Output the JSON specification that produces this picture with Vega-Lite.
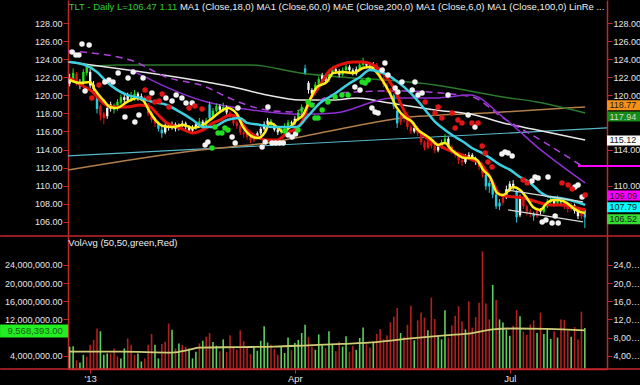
{
"$schema": "https://vega.github.io/schema/vega-lite/v6.json",
"width": 539, "height": 369,
"autosize": {"type": "none"},
"padding": {"left": 68, "top": 0, "right": 33, "bottom": 16},
"background": "#000000",
"config": {
  "view": {"stroke": null},
  "axis": {"grid": false, "domainColor": "#c4262e", "tickColor": "#c4262e", "labelColor": "#e4e4e4", "labelFont": "Liberation Sans, Arial", "labelFontSize": 9, "tickSize": 5, "labelPadding": 1, "domainWidth": 1.5, "tickWidth": 1, "labelOverlap": false, "labelFlush": false},
  "text": {"font": "Liberation Sans, Arial", "fontSize": 9.5}
},
"datasets": {
"bars": [
{"i":0,"o":121.3,"h":122.4,"l":121.0,"c":121.9,"k":"w","v":6.0,"vk":"g"},
{"i":1,"o":121.8,"h":123.0,"l":121.5,"c":122.5,"k":"g","v":6.1,"vk":"g"},
{"i":2,"o":122.4,"h":122.6,"l":121.1,"c":121.4,"k":"r","v":3.0,"vk":"r"},
{"i":3,"o":121.5,"h":121.8,"l":120.7,"c":121.1,"k":"w","v":2.5,"vk":"g"},
{"i":4,"o":121.3,"h":122.9,"l":121.1,"c":122.6,"k":"g","v":4.2,"vk":"g"},
{"i":5,"o":122.5,"h":123.5,"l":122.2,"c":123.1,"k":"g","v":3.8,"vk":"r"},
{"i":6,"o":122.6,"h":122.9,"l":120.8,"c":121.1,"k":"w","v":6.4,"vk":"r"},
{"i":7,"o":121.2,"h":121.6,"l":120.2,"c":120.7,"k":"w","v":7.5,"vk":"r"},
{"i":8,"o":120.0,"h":120.2,"l":118.0,"c":118.5,"k":"c","v":10.0,"vk":"r"},
{"i":9,"o":118.8,"h":119.0,"l":117.2,"c":117.8,"k":"r","v":9.4,"vk":"g"},
{"i":10,"o":118.0,"h":118.2,"l":116.8,"c":117.5,"k":"r","v":4.2,"vk":"g"},
{"i":11,"o":117.7,"h":118.9,"l":117.4,"c":118.6,"k":"w","v":4.5,"vk":"g"},
{"i":12,"o":118.5,"h":119.3,"l":118.2,"c":119.0,"k":"w","v":4.5,"vk":"r"},
{"i":13,"o":118.9,"h":119.1,"l":118.0,"c":118.4,"k":"g","v":5.6,"vk":"r"},
{"i":14,"o":118.5,"h":119.6,"l":118.3,"c":119.3,"k":"g","v":3.8,"vk":"r"},
{"i":15,"o":119.2,"h":120.1,"l":119.0,"c":119.8,"k":"g","v":3.4,"vk":"g"},
{"i":16,"o":119.8,"h":120.1,"l":119.2,"c":119.5,"k":"w","v":5.6,"vk":"g"},
{"i":17,"o":119.5,"h":120.3,"l":119.2,"c":120.0,"k":"w","v":7.8,"vk":"r"},
{"i":18,"o":120.0,"h":120.4,"l":119.3,"c":119.6,"k":"g","v":6.4,"vk":"r"},
{"i":19,"o":119.6,"h":120.6,"l":119.4,"c":120.2,"k":"g","v":4.2,"vk":"r"},
{"i":20,"o":120.2,"h":120.4,"l":119.4,"c":119.7,"k":"w","v":4.5,"vk":"g"},
{"i":21,"o":119.7,"h":120.2,"l":119.4,"c":119.9,"k":"w","v":2.7,"vk":"g"},
{"i":22,"o":119.8,"h":120.0,"l":118.9,"c":119.1,"k":"r","v":3.4,"vk":"r"},
{"i":23,"o":119.0,"h":119.2,"l":117.7,"c":118.0,"k":"r","v":6.4,"vk":"r"},
{"i":24,"o":118.1,"h":118.3,"l":117.0,"c":117.3,"k":"r","v":8.8,"vk":"r"},
{"i":25,"o":117.4,"h":117.6,"l":116.5,"c":116.9,"k":"r","v":6.4,"vk":"g"},
{"i":26,"o":116.9,"h":117.1,"l":116.0,"c":116.3,"k":"c","v":3.4,"vk":"g"},
{"i":27,"o":116.2,"h":116.6,"l":115.3,"c":115.8,"k":"c","v":6.6,"vk":"r"},
{"i":28,"o":115.9,"h":116.9,"l":115.7,"c":116.7,"k":"w","v":7.1,"vk":"r"},
{"i":29,"o":116.6,"h":116.9,"l":116.1,"c":116.4,"k":"w","v":11.1,"vk":"r"},
{"i":30,"o":116.4,"h":117.1,"l":116.2,"c":116.8,"k":"w","v":9.7,"vk":"g"},
{"i":31,"o":116.8,"h":117.0,"l":116.0,"c":116.3,"k":"w","v":5.6,"vk":"r"},
{"i":32,"o":116.3,"h":116.9,"l":116.1,"c":116.7,"k":"w","v":6.7,"vk":"g"},
{"i":33,"o":116.7,"h":117.2,"l":116.5,"c":116.9,"k":"w","v":6.4,"vk":"r"},
{"i":34,"o":116.9,"h":117.1,"l":116.2,"c":116.5,"k":"w","v":6.0,"vk":"r"},
{"i":35,"o":116.5,"h":116.7,"l":115.9,"c":116.1,"k":"w","v":5.6,"vk":"g"},
{"i":36,"o":116.1,"h":116.7,"l":115.9,"c":116.4,"k":"w","v":3.4,"vk":"g"},
{"i":37,"o":116.4,"h":117.0,"l":116.2,"c":116.8,"k":"w","v":4.9,"vk":"g"},
{"i":38,"o":116.8,"h":117.5,"l":116.6,"c":117.1,"k":"g","v":6.7,"vk":"r"},
{"i":39,"o":117.1,"h":117.3,"l":116.3,"c":116.5,"k":"w","v":7.3,"vk":"g"},
{"i":40,"o":116.5,"h":117.5,"l":116.3,"c":117.2,"k":"g","v":8.2,"vk":"r"},
{"i":41,"o":119.0,"h":119.3,"l":117.2,"c":117.5,"k":"c","v":9.0,"vk":"r"},
{"i":42,"o":117.6,"h":118.6,"l":117.4,"c":118.3,"k":"g","v":7.0,"vk":"g"},
{"i":43,"o":118.3,"h":119.1,"l":118.1,"c":118.8,"k":"g","v":6.2,"vk":"g"},
{"i":44,"o":118.8,"h":119.0,"l":118.1,"c":118.4,"k":"w","v":5.0,"vk":"r"},
{"i":45,"o":118.4,"h":119.2,"l":118.2,"c":118.7,"k":"g","v":7.6,"vk":"g"},
{"i":46,"o":118.7,"h":118.9,"l":117.8,"c":118.1,"k":"w","v":4.8,"vk":"r"},
{"i":47,"o":118.1,"h":118.3,"l":117.3,"c":117.6,"k":"r","v":8.5,"vk":"r"},
{"i":48,"o":117.6,"h":117.8,"l":116.6,"c":116.9,"k":"r","v":6.0,"vk":"r"},
{"i":49,"o":117.0,"h":117.2,"l":116.3,"c":116.6,"k":"r","v":5.3,"vk":"r"},
{"i":50,"o":116.6,"h":116.8,"l":115.6,"c":115.9,"k":"r","v":9.6,"vk":"r"},
{"i":51,"o":115.9,"h":116.1,"l":115.3,"c":115.7,"k":"r","v":7.2,"vk":"r"},
{"i":52,"o":115.7,"h":115.9,"l":115.1,"c":115.4,"k":"r","v":5.8,"vk":"r"},
{"i":53,"o":115.4,"h":115.6,"l":114.7,"c":115.0,"k":"r","v":4.4,"vk":"r"},
{"i":54,"o":115.0,"h":115.7,"l":114.8,"c":115.4,"k":"r","v":6.1,"vk":"g"},
{"i":55,"o":115.4,"h":116.0,"l":115.2,"c":115.8,"k":"w","v":5.1,"vk":"g"},
{"i":56,"o":115.8,"h":116.5,"l":115.6,"c":116.3,"k":"w","v":7.3,"vk":"g"},
{"i":57,"o":116.3,"h":117.1,"l":116.1,"c":116.8,"k":"w","v":10.5,"vk":"g"},
{"i":58,"o":116.8,"h":117.5,"l":116.5,"c":117.2,"k":"w","v":6.9,"vk":"g"},
{"i":59,"o":117.2,"h":117.4,"l":116.4,"c":116.7,"k":"g","v":6.4,"vk":"r"},
{"i":60,"o":116.7,"h":116.9,"l":116.0,"c":116.2,"k":"w","v":5.5,"vk":"r"},
{"i":61,"o":116.2,"h":116.4,"l":115.6,"c":115.9,"k":"w","v":4.2,"vk":"r"},
{"i":62,"o":115.9,"h":116.6,"l":115.7,"c":116.3,"k":"g","v":5.9,"vk":"g"},
{"i":63,"o":116.3,"h":116.9,"l":116.1,"c":116.6,"k":"g","v":4.6,"vk":"g"},
{"i":64,"o":116.6,"h":117.3,"l":116.4,"c":117.0,"k":"g","v":8.0,"vk":"g"},
{"i":65,"o":117.0,"h":117.2,"l":116.6,"c":116.9,"k":"w","v":5.2,"vk":"r"},
{"i":66,"o":116.9,"h":117.7,"l":116.7,"c":117.4,"k":"w","v":6.8,"vk":"g"},
{"i":67,"o":117.4,"h":118.4,"l":117.2,"c":118.1,"k":"g","v":7.5,"vk":"g"},
{"i":68,"o":118.1,"h":119.0,"l":117.9,"c":118.7,"k":"g","v":9.0,"vk":"g"},
{"i":69,"o":122.5,"h":123.4,"l":122.3,"c":123.0,"k":"c","v":10.8,"vk":"g"},
{"i":70,"o":121.4,"h":121.6,"l":120.2,"c":120.6,"k":"w","v":8.1,"vk":"r"},
{"i":71,"o":120.6,"h":120.8,"l":119.9,"c":120.2,"k":"w","v":6.0,"vk":"r"},
{"i":72,"o":120.3,"h":121.5,"l":120.1,"c":121.2,"k":"g","v":5.3,"vk":"g"},
{"i":73,"o":121.2,"h":122.1,"l":121.0,"c":121.8,"k":"g","v":8.7,"vk":"g"},
{"i":74,"o":121.8,"h":122.5,"l":121.6,"c":122.2,"k":"w","v":6.3,"vk":"g"},
{"i":75,"o":122.2,"h":122.4,"l":121.4,"c":121.6,"k":"w","v":5.7,"vk":"r"},
{"i":76,"o":121.7,"h":122.7,"l":121.5,"c":122.4,"k":"g","v":9.4,"vk":"g"},
{"i":77,"o":122.4,"h":123.2,"l":122.2,"c":122.9,"k":"g","v":6.6,"vk":"g"},
{"i":78,"o":122.9,"h":123.1,"l":122.4,"c":122.7,"k":"w","v":5.0,"vk":"r"},
{"i":79,"o":122.7,"h":122.9,"l":122.0,"c":122.3,"k":"w","v":7.1,"vk":"r"},
{"i":80,"o":122.3,"h":123.1,"l":122.1,"c":122.8,"k":"g","v":6.0,"vk":"g"},
{"i":81,"o":122.8,"h":123.5,"l":122.6,"c":123.2,"k":"g","v":8.3,"vk":"g"},
{"i":82,"o":123.2,"h":123.4,"l":122.6,"c":122.8,"k":"w","v":4.9,"vk":"r"},
{"i":83,"o":122.8,"h":123.0,"l":122.2,"c":122.4,"k":"w","v":6.2,"vk":"r"},
{"i":84,"o":122.4,"h":123.2,"l":122.2,"c":122.9,"k":"w","v":5.3,"vk":"g"},
{"i":85,"o":122.9,"h":123.7,"l":122.7,"c":123.4,"k":"g","v":7.9,"vk":"g"},
{"i":86,"o":123.4,"h":124.2,"l":123.1,"c":123.6,"k":"g","v":10.2,"vk":"g"},
{"i":87,"o":123.6,"h":123.8,"l":123.0,"c":123.3,"k":"w","v":6.5,"vk":"r"},
{"i":88,"o":123.3,"h":123.6,"l":122.8,"c":123.0,"k":"w","v":5.8,"vk":"r"},
{"i":89,"o":123.0,"h":123.7,"l":122.8,"c":123.4,"k":"w","v":7.0,"vk":"g"},
{"i":90,"o":123.4,"h":123.6,"l":122.5,"c":122.8,"k":"r","v":8.8,"vk":"r"},
{"i":91,"o":122.8,"h":123.0,"l":121.6,"c":121.9,"k":"r","v":9.9,"vk":"r"},
{"i":92,"o":121.9,"h":122.1,"l":120.9,"c":121.2,"k":"r","v":7.6,"vk":"r"},
{"i":93,"o":121.2,"h":121.4,"l":120.3,"c":120.6,"k":"r","v":8.5,"vk":"r"},
{"i":94,"o":120.6,"h":120.8,"l":119.7,"c":120.1,"k":"r","v":11.4,"vk":"r"},
{"i":95,"o":120.0,"h":120.2,"l":118.5,"c":118.8,"k":"c","v":12.6,"vk":"r"},
{"i":96,"o":118.3,"h":118.4,"l":116.4,"c":116.9,"k":"c","v":14.5,"vk":"r"},
{"i":97,"o":117.0,"h":118.1,"l":116.7,"c":117.8,"k":"r","v":9.0,"vk":"g"},
{"i":98,"o":117.8,"h":118.0,"l":117.0,"c":117.4,"k":"r","v":8.2,"vk":"r"},
{"i":99,"o":117.4,"h":117.6,"l":116.2,"c":116.5,"k":"r","v":10.8,"vk":"r"},
{"i":100,"o":116.5,"h":116.7,"l":115.7,"c":116.0,"k":"r","v":15.0,"vk":"r"},
{"i":101,"o":116.0,"h":116.7,"l":115.8,"c":116.4,"k":"w","v":7.4,"vk":"g"},
{"i":102,"o":116.4,"h":116.6,"l":115.5,"c":115.8,"k":"r","v":11.8,"vk":"r"},
{"i":103,"o":115.8,"h":116.0,"l":114.5,"c":114.8,"k":"r","v":13.5,"vk":"r"},
{"i":104,"o":114.8,"h":115.0,"l":113.9,"c":114.2,"k":"r","v":12.4,"vk":"r"},
{"i":105,"o":114.2,"h":115.1,"l":114.0,"c":114.9,"k":"r","v":9.6,"vk":"g"},
{"i":106,"o":114.9,"h":115.1,"l":114.1,"c":114.4,"k":"r","v":16.8,"vk":"r"},
{"i":107,"o":114.4,"h":114.6,"l":113.6,"c":113.9,"k":"r","v":12.1,"vk":"r"},
{"i":108,"o":113.9,"h":114.6,"l":113.7,"c":114.3,"k":"w","v":8.3,"vk":"g"},
{"i":109,"o":114.3,"h":115.1,"l":114.1,"c":114.8,"k":"g","v":7.6,"vk":"g"},
{"i":110,"o":114.8,"h":115.7,"l":114.6,"c":115.2,"k":"g","v":14.0,"vk":"g"},
{"i":111,"o":115.2,"h":115.4,"l":114.1,"c":114.3,"k":"w","v":8.0,"vk":"r"},
{"i":112,"o":114.3,"h":114.5,"l":113.5,"c":113.8,"k":"r","v":10.7,"vk":"r"},
{"i":113,"o":113.8,"h":114.0,"l":113.1,"c":113.4,"k":"r","v":12.8,"vk":"r"},
{"i":114,"o":113.4,"h":113.6,"l":112.4,"c":112.8,"k":"r","v":14.9,"vk":"r"},
{"i":115,"o":112.8,"h":113.1,"l":112.2,"c":112.6,"k":"r","v":11.6,"vk":"r"},
{"i":116,"o":112.6,"h":113.5,"l":112.4,"c":113.2,"k":"w","v":9.8,"vk":"g"},
{"i":117,"o":113.2,"h":113.7,"l":113.0,"c":113.4,"k":"w","v":16.0,"vk":"r"},
{"i":118,"o":113.4,"h":113.6,"l":112.7,"c":113.0,"k":"w","v":10.2,"vk":"r"},
{"i":119,"o":113.0,"h":113.2,"l":112.3,"c":112.6,"k":"w","v":12.5,"vk":"r"},
{"i":120,"o":112.6,"h":112.8,"l":111.7,"c":112.1,"k":"r","v":15.7,"vk":"r"},
{"i":121,"o":112.1,"h":112.3,"l":110.9,"c":111.3,"k":"r","v":27.0,"vk":"r"},
{"i":122,"o":111.2,"h":111.3,"l":109.5,"c":109.9,"k":"c","v":15.5,"vk":"r"},
{"i":123,"o":109.9,"h":110.6,"l":109.2,"c":110.3,"k":"c","v":12.0,"vk":"r"},
{"i":124,"o":110.3,"h":110.5,"l":108.6,"c":109.0,"k":"c","v":19.6,"vk":"g"},
{"i":125,"o":109.0,"h":109.2,"l":107.4,"c":107.7,"k":"c","v":16.3,"vk":"r"},
{"i":126,"o":107.7,"h":108.5,"l":107.3,"c":108.1,"k":"c","v":12.0,"vk":"g"},
{"i":127,"o":108.1,"h":109.1,"l":107.8,"c":108.7,"k":"r","v":11.3,"vk":"g"},
{"i":128,"o":108.7,"h":110.0,"l":108.5,"c":109.6,"k":"w","v":9.7,"vk":"g"},
{"i":129,"o":109.6,"h":110.5,"l":109.3,"c":110.2,"k":"w","v":8.4,"vk":"g"},
{"i":130,"o":110.2,"h":110.6,"l":109.5,"c":109.8,"k":"w","v":10.6,"vk":"r"},
{"i":131,"o":109.3,"h":109.5,"l":105.9,"c":106.5,"k":"c","v":14.1,"vk":"r"},
{"i":132,"o":106.7,"h":109.0,"l":106.5,"c":108.6,"k":"w","v":12.7,"vk":"g"},
{"i":133,"o":108.6,"h":108.8,"l":107.4,"c":107.7,"k":"r","v":9.3,"vk":"r"},
{"i":134,"o":107.7,"h":107.9,"l":106.7,"c":107.1,"k":"r","v":8.6,"vk":"r"},
{"i":135,"o":107.1,"h":107.4,"l":106.5,"c":106.9,"k":"r","v":10.9,"vk":"r"},
{"i":136,"o":106.9,"h":107.1,"l":106.1,"c":106.6,"k":"c","v":11.8,"vk":"r"},
{"i":137,"o":106.6,"h":107.6,"l":106.4,"c":107.3,"k":"r","v":9.0,"vk":"g"},
{"i":138,"o":107.3,"h":107.5,"l":106.8,"c":107.1,"k":"w","v":13.5,"vk":"r"},
{"i":139,"o":107.1,"h":108.0,"l":106.9,"c":107.7,"k":"g","v":8.8,"vk":"g"},
{"i":140,"o":107.7,"h":108.5,"l":107.5,"c":108.2,"k":"g","v":10.1,"vk":"g"},
{"i":141,"o":108.2,"h":108.9,"l":108.0,"c":108.4,"k":"g","v":7.7,"vk":"g"},
{"i":142,"o":108.4,"h":108.6,"l":107.7,"c":108.0,"k":"w","v":9.4,"vk":"r"},
{"i":143,"o":108.0,"h":108.9,"l":107.8,"c":108.5,"k":"g","v":8.0,"vk":"g"},
{"i":144,"o":108.5,"h":108.7,"l":107.9,"c":108.2,"k":"w","v":12.0,"vk":"r"},
{"i":145,"o":108.2,"h":108.4,"l":107.4,"c":107.7,"k":"r","v":11.9,"vk":"r"},
{"i":146,"o":107.7,"h":107.9,"l":107.0,"c":107.4,"k":"r","v":9.5,"vk":"r"},
{"i":147,"o":107.4,"h":108.1,"l":107.2,"c":107.8,"k":"r","v":8.2,"vk":"g"},
{"i":148,"o":107.8,"h":108.0,"l":106.9,"c":107.2,"k":"w","v":10.3,"vk":"r"},
{"i":149,"o":107.2,"h":107.4,"l":106.3,"c":106.6,"k":"w","v":7.6,"vk":"r"},
{"i":150,"o":106.6,"h":107.3,"l":106.3,"c":107.0,"k":"r","v":13.7,"vk":"r"},
{"i":151,"o":107.3,"h":107.5,"l":105.3,"c":106.47,"k":"c","v":10.1,"vk":"g"}
],
"lines": [
{"s":"yel","i":0,"p":121.71},{"s":"yel","i":3,"p":121.38},{"s":"yel","i":6,"p":121.49},{"s":"yel","i":7.4,"p":120.61},{"s":"yel","i":9.8,"p":119.5},{"s":"yel","i":11.8,"p":118.72},{"s":"yel","i":13.8,"p":118.61},{"s":"yel","i":16.8,"p":119.27},{"s":"yel","i":19.7,"p":119.72},{"s":"yel","i":21.4,"p":119.5},{"s":"yel","i":23.5,"p":118.17},{"s":"yel","i":25.6,"p":117.06},{"s":"yel","i":27.3,"p":116.61},{"s":"yel","i":30.3,"p":116.5},{"s":"yel","i":33.2,"p":116.73},{"s":"yel","i":36.1,"p":116.39},{"s":"yel","i":39.1,"p":116.73},{"s":"yel","i":41.1,"p":117.28},{"s":"yel","i":44.1,"p":118.17},{"s":"yel","i":46.3,"p":118.61},{"s":"yel","i":49,"p":117.94},{"s":"yel","i":50.8,"p":116.5},{"s":"yel","i":53.7,"p":115.39},{"s":"yel","i":55.2,"p":115.28},{"s":"yel","i":57.3,"p":115.95},{"s":"yel","i":58.7,"p":116.95},{"s":"yel","i":60.8,"p":116.5},{"s":"yel","i":62.5,"p":115.95},{"s":"yel","i":64.6,"p":116.5},{"s":"yel","i":66.6,"p":117.28},{"s":"yel","i":68.4,"p":117.83},{"s":"yel","i":70.4,"p":119.5},{"s":"yel","i":72.5,"p":120.94},{"s":"yel","i":75.4,"p":121.49},{"s":"yel","i":77.2,"p":122.49},{"s":"yel","i":80.1,"p":122.6},{"s":"yel","i":83.1,"p":122.49},{"s":"yel","i":86,"p":123.04},{"s":"yel","i":88,"p":123.16},{"s":"yel","i":91,"p":122.05},{"s":"yel","i":93.8,"p":120.27},{"s":"yel","i":95.9,"p":118.61},{"s":"yel","i":98.2,"p":117.61},{"s":"yel","i":100.4,"p":117.06},{"s":"yel","i":102.1,"p":116.17},{"s":"yel","i":104.2,"p":115.62},{"s":"yel","i":106.2,"p":115.06},{"s":"yel","i":107.9,"p":114.51},{"s":"yel","i":110,"p":114.73},{"s":"yel","i":112,"p":113.95},{"s":"yel","i":113.8,"p":113.4},{"s":"yel","i":115.8,"p":113.07},{"s":"yel","i":117.9,"p":113.07},{"s":"yel","i":119.4,"p":112.85},{"s":"yel","i":121.2,"p":111.74},{"s":"yel","i":123.2,"p":110.96},{"s":"yel","i":125.3,"p":109.19},{"s":"yel","i":127,"p":108.96},{"s":"yel","i":130,"p":109.85},{"s":"yel","i":132,"p":109.52},{"s":"yel","i":134,"p":108.63},{"s":"yel","i":135.8,"p":107.63},{"s":"yel","i":137.9,"p":107.3},{"s":"yel","i":139.9,"p":108.08},{"s":"yel","i":141.6,"p":108.41},{"s":"yel","i":143.7,"p":108.41},{"s":"yel","i":145.7,"p":108.08},{"s":"yel","i":147.5,"p":107.53},{"s":"yel","i":149.6,"p":107.08},{"s":"yel","i":151,"p":106.97},
{"s":"red","i":0,"p":121.94},{"s":"red","i":4.4,"p":120.94},{"s":"red","i":6.8,"p":120.38},{"s":"red","i":9.8,"p":119.16},{"s":"red","i":12.7,"p":118.72},{"s":"red","i":16.8,"p":118.72},{"s":"red","i":20.6,"p":118.94},{"s":"red","i":23.5,"p":118.72},{"s":"red","i":26.5,"p":117.61},{"s":"red","i":28.5,"p":116.95},{"s":"red","i":32.3,"p":116.39},{"s":"red","i":36.1,"p":115.84},{"s":"red","i":39.1,"p":116.17},{"s":"red","i":42,"p":116.95},{"s":"red","i":44.1,"p":117.28},{"s":"red","i":47,"p":117.83},{"s":"red","i":49,"p":117.61},{"s":"red","i":52,"p":116.17},{"s":"red","i":54.9,"p":115.39},{"s":"red","i":57.8,"p":115.06},{"s":"red","i":60.8,"p":115.06},{"s":"red","i":63.7,"p":115.84},{"s":"red","i":66.6,"p":116.39},{"s":"red","i":68.4,"p":117.28},{"s":"red","i":70.4,"p":119.5},{"s":"red","i":72.5,"p":120.61},{"s":"red","i":74.3,"p":121.71},{"s":"red","i":76.3,"p":122.82},{"s":"red","i":79.2,"p":123.38},{"s":"red","i":83.1,"p":123.71},{"s":"red","i":86,"p":123.71},{"s":"red","i":88.9,"p":123.38},{"s":"red","i":91.9,"p":122.49},{"s":"red","i":94.8,"p":120.94},{"s":"red","i":98.3,"p":118.1},{"s":"red","i":101.3,"p":116.5},{"s":"red","i":104.2,"p":115.39},{"s":"red","i":107.1,"p":114.73},{"s":"red","i":110.9,"p":113.95},{"s":"red","i":115,"p":113.4},{"s":"red","i":118,"p":112.85},{"s":"red","i":120.3,"p":112.52},{"s":"red","i":122.4,"p":111.41},{"s":"red","i":124.1,"p":110.3},{"s":"red","i":126.2,"p":108.95},{"s":"red","i":130,"p":108.75},{"s":"red","i":132.9,"p":108.63},{"s":"red","i":137,"p":108.19},{"s":"red","i":140.8,"p":107.86},{"s":"red","i":144.6,"p":107.86},{"s":"red","i":147.5,"p":107.63},{"s":"red","i":151.1,"p":107.3},
{"s":"cya","i":0,"p":123.71},{"s":"cya","i":4.4,"p":123.38},{"s":"cya","i":8,"p":122.6},{"s":"cya","i":10.9,"p":121.49},{"s":"cya","i":13.9,"p":120.61},{"s":"cya","i":16.8,"p":120.05},{"s":"cya","i":20.6,"p":119.72},{"s":"cya","i":24.4,"p":119.27},{"s":"cya","i":28.5,"p":118.94},{"s":"cya","i":32.3,"p":118.17},{"s":"cya","i":36.1,"p":117.28},{"s":"cya","i":39.1,"p":116.5},{"s":"cya","i":42,"p":116.5},{"s":"cya","i":46.1,"p":117.28},{"s":"cya","i":49.9,"p":117.5},{"s":"cya","i":52,"p":116.95},{"s":"cya","i":55.8,"p":116.73},{"s":"cya","i":59.6,"p":116.5},{"s":"cya","i":63.7,"p":116.5},{"s":"cya","i":66.6,"p":116.5},{"s":"cya","i":69.6,"p":117.61},{"s":"cya","i":73.4,"p":119.16},{"s":"cya","i":77.2,"p":120.05},{"s":"cya","i":81.3,"p":121.16},{"s":"cya","i":85.1,"p":122.05},{"s":"cya","i":88,"p":122.82},{"s":"cya","i":91,"p":122.6},{"s":"cya","i":93,"p":122.3},{"s":"cya","i":95.4,"p":121.71},{"s":"cya","i":98.3,"p":120.83},{"s":"cya","i":101.3,"p":119.72},{"s":"cya","i":104.2,"p":118.39},{"s":"cya","i":107.1,"p":117.06},{"s":"cya","i":110,"p":116.17},{"s":"cya","i":113,"p":115.39},{"s":"cya","i":115.9,"p":114.73},{"s":"cya","i":117.9,"p":114.17},{"s":"cya","i":120.3,"p":113.73},{"s":"cya","i":123.2,"p":113.07},{"s":"cya","i":126.2,"p":112.29},{"s":"cya","i":129.1,"p":111.74},{"s":"cya","i":132,"p":110.96},{"s":"cya","i":135,"p":110.3},{"s":"cya","i":137.9,"p":109.3},{"s":"cya","i":140.8,"p":108.75},{"s":"cya","i":143.7,"p":108.63},{"s":"cya","i":146.6,"p":108.41},{"s":"cya","i":149.6,"p":108.07},{"s":"cya","i":151.1,"p":107.85},
{"s":"wht","i":-0.4,"p":123.71},{"s":"wht","i":40,"p":121.49},{"s":"wht","i":47.9,"p":120.94},{"s":"wht","i":57.8,"p":120.05},{"s":"wht","i":67.5,"p":119.5},{"s":"wht","i":77.2,"p":119.5},{"s":"wht","i":84.2,"p":119.72},{"s":"wht","i":91.9,"p":119.27},{"s":"wht","i":107.1,"p":118.39},{"s":"wht","i":118.8,"p":117.83},{"s":"wht","i":127,"p":116.95},{"s":"wht","i":137,"p":116.17},{"s":"wht","i":151.1,"p":115.06},
{"s":"grn","i":4.5,"p":123.16},{"s":"grn","i":13.9,"p":123.38},{"s":"grn","i":38.2,"p":123.38},{"s":"grn","i":52.9,"p":123.38},{"s":"grn","i":67.5,"p":122.49},{"s":"grn","i":79.2,"p":122.05},{"s":"grn","i":92.4,"p":121.71},{"s":"grn","i":107.1,"p":121.16},{"s":"grn","i":118.8,"p":120.38},{"s":"grn","i":127,"p":119.83},{"s":"grn","i":137,"p":119.27},{"s":"grn","i":151.1,"p":118.05},
{"s":"org","i":-0.5,"p":111.73},{"s":"org","i":38.2,"p":113.95},{"s":"org","i":57.8,"p":114.73},{"s":"org","i":77.8,"p":116.17},{"s":"org","i":97.4,"p":117.5},{"s":"org","i":122.3,"p":118.05},{"s":"org","i":151.1,"p":118.72},
{"s":"lbl","i":-0.5,"p":113.29},{"s":"lbl","i":157.5,"p":116.39},
{"s":"pd","i":-0.5,"p":124.93},{"s":"pd","i":17.7,"p":123.93},{"s":"pd","i":28.2,"p":122.05},{"s":"pd","i":40,"p":120.94},{"s":"pd","i":46.1,"p":119.83},{"s":"pd","i":54.9,"p":118.6},{"s":"pd","i":64.6,"p":118.17},{"s":"pd","i":79.2,"p":120.27},{"s":"pd","i":95,"p":120.5},{"s":"pd","i":117.4,"p":119.9},{"s":"pd","i":127,"p":117.5},{"s":"pd","i":140,"p":114.6},{"s":"pd","i":150,"p":112.2},
{"s":"ps","i":17.7,"p":122.86},{"s":"ps","i":40,"p":119.3},{"s":"ps","i":52.9,"p":118.4},{"s":"ps","i":67.5,"p":117.9},{"s":"ps","i":77.8,"p":118.05},{"s":"ps","i":94.5,"p":119.72},{"s":"ps","i":107.1,"p":119.72},{"s":"ps","i":117.4,"p":120.05},{"s":"ps","i":127,"p":117.6},{"s":"ps","i":137,"p":114.3},{"s":"ps","i":151.1,"p":110.3},
{"s":"wc1","i":128.2,"p":109.52},{"s":"wc1","i":150.5,"p":108.19},
{"s":"wc2","i":128.5,"p":107.3},{"s":"wc2","i":150.5,"p":105.97}
],
"dots": [
{"i":3.6,"p":125.71,"k":"w"},{"i":5.7,"p":125.59,"k":"w"},{"i":0.7,"p":124.82,"k":"w"},{"i":1.8,"p":124.49,"k":"w"},{"i":2.7,"p":124.49,"k":"w"},{"i":4.5,"p":120.49,"k":"w"},{"i":10.3,"p":121.49,"k":"w"},{"i":11.5,"p":121.71,"k":"w"},{"i":12.7,"p":121.49,"k":"w"},{"i":14.2,"p":122.49,"k":"w"},{"i":17.1,"p":121.94,"k":"w"},{"i":18.6,"p":122.6,"k":"w"},{"i":21.5,"p":121.94,"k":"w"},{"i":16.2,"p":117.61,"k":"w"},{"i":19.1,"p":117.06,"k":"w"},{"i":20.3,"p":117.83,"k":"w"},{"i":24.1,"p":120.27,"k":"w"},{"i":28.2,"p":119.72,"k":"w"},{"i":30,"p":119.39,"k":"w"},{"i":31.2,"p":120.05,"k":"w"},{"i":32.9,"p":119.72,"k":"w"},{"i":34.1,"p":119.16,"k":"w"},{"i":35.9,"p":119.16,"k":"w"},{"i":39.7,"p":114.51,"k":"w"},{"i":40.5,"p":114.84,"k":"w"},{"i":47.6,"p":115.39,"k":"w"},{"i":48.5,"p":114.73,"k":"w"},{"i":49.3,"p":118.61,"k":"w"},{"i":56.4,"p":114.28,"k":"w"},{"i":57.3,"p":114.84,"k":"w"},{"i":58.1,"p":118.72,"k":"w"},{"i":59.3,"p":114.73,"k":"w"},{"i":60.4,"p":114.73,"k":"w"},{"i":61.5,"p":114.73,"k":"w"},{"i":62.6,"p":114.73,"k":"w"},{"i":64,"p":115.62,"k":"w"},{"i":65.2,"p":115.39,"k":"w"},{"i":66.2,"p":115.73,"k":"w"},{"i":83.6,"p":120.94,"k":"w"},{"i":85.1,"p":120.61,"k":"w"},{"i":88.6,"p":118.61,"k":"w"},{"i":89.5,"p":118.17,"k":"w"},{"i":90.4,"p":118.06,"k":"w"},{"i":92.4,"p":123.6,"k":"w"},{"i":91.6,"p":122.82,"k":"w"},{"i":93.3,"p":122.27,"k":"w"},{"i":95.4,"p":120.83,"k":"w"},{"i":96.2,"p":120.38,"k":"w"},{"i":97.4,"p":121.49,"k":"w"},{"i":100.4,"p":120.61,"k":"w"},{"i":101.2,"p":121.49,"k":"w"},{"i":102.1,"p":120.05,"k":"w"},{"i":103.3,"p":120.27,"k":"w"},{"i":110.9,"p":120.05,"k":"w"},{"i":116.8,"p":117.83,"k":"w"},{"i":118.8,"p":116.5,"k":"w"},{"i":126.7,"p":113.51,"k":"w"},{"i":127.6,"p":113.73,"k":"w"},{"i":128.5,"p":113.62,"k":"w"},{"i":129.7,"p":113.29,"k":"w"},{"i":135.5,"p":110.52,"k":"w"},{"i":136.4,"p":110.96,"k":"w"},{"i":137.3,"p":110.85,"k":"w"},{"i":140.2,"p":110.96,"k":"w"},{"i":148.1,"p":109.85,"k":"w"},{"i":149,"p":110.07,"k":"w"},{"i":150.2,"p":108.74,"k":"w"},{"i":138.5,"p":105.97,"k":"w"},{"i":139.6,"p":106.19,"k":"w"},{"i":141.4,"p":105.85,"k":"w"},{"i":143.2,"p":105.85,"k":"w"},{"i":142.3,"p":106.63,"k":"w"},
{"i":6.5,"p":119.72,"k":"r"},{"i":8.6,"p":121.16,"k":"r"},{"i":22.1,"p":120.61,"k":"r"},{"i":23.2,"p":119.72,"k":"r"},{"i":25,"p":119.27,"k":"r"},{"i":26.2,"p":119.39,"k":"r"},{"i":27.1,"p":120.16,"k":"r"},{"i":29.1,"p":118.72,"k":"r"},{"i":35,"p":118.61,"k":"r"},{"i":36.7,"p":118.83,"k":"r"},{"i":38.8,"p":118.5,"k":"r"},{"i":104.2,"p":119.27,"k":"r"},{"i":107.1,"p":118.05,"k":"r"},{"i":108,"p":118.72,"k":"r"},{"i":109.1,"p":117.5,"k":"r"},{"i":112.1,"p":118.05,"k":"r"},{"i":113,"p":116.39,"k":"r"},{"i":113.8,"p":117.28,"k":"r"},{"i":115,"p":116.95,"k":"r"},{"i":117.9,"p":116.95,"k":"r"},{"i":119.7,"p":116.95,"k":"r"},{"i":120.9,"p":114.4,"k":"r"},{"i":121.8,"p":113.62,"k":"r"},{"i":122.6,"p":112.62,"k":"r"},{"i":123.8,"p":112.07,"k":"r"},{"i":132.9,"p":110.63,"k":"r"},{"i":134.1,"p":110.3,"k":"r"},{"i":144.3,"p":110.3,"k":"r"},{"i":146.1,"p":110.07,"k":"r"},{"i":147.3,"p":109.63,"k":"r"},{"i":151.1,"p":108.96,"k":"r"},
{"i":42.6,"p":116.5,"k":"g"},{"i":43.5,"p":115.84,"k":"g"},{"i":44.6,"p":115.84,"k":"g"},{"i":45.5,"p":116.39,"k":"g"},{"i":46.4,"p":116.17,"k":"g"},{"i":41.7,"p":114.18,"k":"g"},{"i":63.1,"p":116.06,"k":"g"},{"i":66.9,"p":116.17,"k":"g"},{"i":69.9,"p":119.27,"k":"g"},{"i":71,"p":118.94,"k":"g"},{"i":74,"p":118.39,"k":"g"},{"i":71.9,"p":117.5,"k":"g"},{"i":72.8,"p":117.5,"k":"g"},{"i":75.7,"p":119.27,"k":"g"},{"i":77.8,"p":119.83,"k":"g"},{"i":79.8,"p":120.05,"k":"g"},{"i":81.6,"p":120.05,"k":"g"},{"i":85.7,"p":121.49,"k":"g"},{"i":86.6,"p":121.38,"k":"g"},{"i":87.5,"p":121.71,"k":"g"}
],
"vavg": [
{"i":0,"v":4.9},{"i":15,"v":4.9},{"i":30,"v":4.7},{"i":35,"v":5.3},{"i":38,"v":5.8},{"i":50,"v":5.9},{"i":60,"v":6.0},{"i":70,"v":6.3},{"i":80,"v":6.6},{"i":90,"v":7.0},{"i":100,"v":7.8},{"i":110,"v":8.5},{"i":118,"v":9.0},{"i":124,"v":9.8},{"i":130,"v":10.0},{"i":140,"v":9.9},{"i":151,"v":9.6}
],
"badges": [
{"p":118.9,"t":"118.77","k":"bo"},{"p":117.65,"t":"117.94","k":"bg"},{"p":115.0,"t":"115.12","k":"bw"},{"p":108.9,"t":"109.09","k":"bm"},{"p":107.61,"t":"107.79","k":"bc"},{"p":106.28,"t":"106.52","k":"bl"}
]
},
"layer": [
{
  "layer": [
    {"data": {"name": "lines"}, "transform": [{"filter": "datum.s == 'lbl'"}],
     "mark": {"type": "line", "color": "#55b8c8", "strokeWidth": 1.2},
     "encoding": {
        "x": {"field": "i", "type": "quantitative", "title": null,
          "scale": {"domain": [-0.5, 157.5], "nice": false, "zero": false},
          "axis": {"values": [6, 66, 129], "labelExpr": "datum.value < 30 ? \"'13\" : (datum.value < 100 ? 'Apr' : 'Jul')", "tickSize": 4, "labelPadding": 0, "labelBaseline": "top", "labelFontSize": 9.5}},
        "y": {"field": "p", "type": "quantitative", "title": null,
        "scale": {"domain": [104.41, 130.58], "range": [236, 0], "nice": false, "zero": false},
        "axis": {"orient": "left", "values": [106,108,110,112,114,116,118,120,122,124,126,128], "format": ".2f", "labelBaseline": "middle", "labelOverlap": false, "tickCount": 12}}}},
    {"data": {"name": "lines"}, "transform": [{"filter": "datum.s == 'org'"}],
     "mark": {"type": "line", "color": "#b27e4a", "strokeWidth": 1.5, "interpolate": "monotone"},
     "encoding": {"x": {"field": "i", "type": "quantitative", "title": null}, "y": {"field": "p", "type": "quantitative", "title": null}}},
    {"data": {"name": "lines"}, "transform": [{"filter": "datum.s == 'grn'"}],
     "mark": {"type": "line", "color": "#2b7a2b", "strokeWidth": 1.5, "interpolate": "monotone"},
     "encoding": {"x": {"field": "i", "type": "quantitative", "title": null}, "y": {"field": "p", "type": "quantitative", "title": null}}},
    {"data": {"name": "lines"}, "transform": [{"filter": "datum.s == 'wht'"}],
     "mark": {"type": "line", "color": "#e8e8e8", "strokeWidth": 1.5, "interpolate": "monotone"},
     "encoding": {"x": {"field": "i", "type": "quantitative", "title": null}, "y": {"field": "p", "type": "quantitative", "title": null}}},
    {"data": {"name": "lines"}, "transform": [{"filter": "datum.s == 'pd'"}],
     "mark": {"type": "line", "color": "#b040dd", "strokeWidth": 1.5, "strokeDash": [7, 5], "interpolate": "monotone"},
     "encoding": {"x": {"field": "i", "type": "quantitative", "title": null}, "y": {"field": "p", "type": "quantitative", "title": null}}},
    {"data": {"name": "lines"}, "transform": [{"filter": "datum.s == 'ps'"}],
     "mark": {"type": "line", "color": "#8e2fd0", "strokeWidth": 1.5, "interpolate": "monotone"},
     "encoding": {"x": {"field": "i", "type": "quantitative", "title": null}, "y": {"field": "p", "type": "quantitative", "title": null}}},
    {"data": {"name": "bars"},
     "mark": {"type": "rule", "strokeWidth": 1},
     "encoding": {"x": {"field": "i", "type": "quantitative", "title": null}, "y": {"field": "l", "type": "quantitative", "title": null}, "y2": {"field": "h"},
        "color": {"field": "k", "type": "nominal", "legend": null, "scale": {"domain": ["w","r","g","c"], "range": ["#f2f2f2","#e01515","#22dd22","#2cc9dc"]}}}},
    {"data": {"name": "bars"},
     "mark": {"type": "rule", "strokeWidth": 2.4},
     "encoding": {"x": {"field": "i", "type": "quantitative", "title": null}, "y": {"field": "o", "type": "quantitative", "title": null}, "y2": {"field": "c"},
        "color": {"field": "k", "type": "nominal", "legend": null}}},
    {"data": {"name": "lines"}, "transform": [{"filter": "datum.s == 'red'"}],
     "mark": {"type": "line", "color": "#e3120b", "strokeWidth": 3, "interpolate": "monotone"},
     "encoding": {"x": {"field": "i", "type": "quantitative", "title": null}, "y": {"field": "p", "type": "quantitative", "title": null}}},
    {"data": {"name": "lines"}, "transform": [{"filter": "datum.s == 'yel'"}],
     "mark": {"type": "line", "color": "#ffee1a", "strokeWidth": 2.5, "interpolate": "monotone"},
     "encoding": {"x": {"field": "i", "type": "quantitative", "title": null}, "y": {"field": "p", "type": "quantitative", "title": null}}},
    {"data": {"name": "lines"}, "transform": [{"filter": "datum.s == 'cya'"}],
     "mark": {"type": "line", "color": "#3ccfe0", "strokeWidth": 2.5, "interpolate": "monotone"},
     "encoding": {"x": {"field": "i", "type": "quantitative", "title": null}, "y": {"field": "p", "type": "quantitative", "title": null}}},
    {"data": {"name": "lines"}, "transform": [{"filter": "datum.s == 'wc1' || datum.s == 'wc2'"}],
     "mark": {"type": "line", "color": "#d8d8d8", "strokeWidth": 1.2},
     "encoding": {"x": {"field": "i", "type": "quantitative", "title": null}, "y": {"field": "p", "type": "quantitative", "title": null}, "detail": {"field": "s"}}},
    {"data": {"name": "dots"},
     "mark": {"type": "point", "filled": true, "size": 30, "opacity": 1},
     "encoding": {"x": {"field": "i", "type": "quantitative", "title": null}, "y": {"field": "p", "type": "quantitative", "title": null},
        "color": {"field": "k", "type": "nominal", "legend": null}}},
    {"data": {"values": [{}]},
     "mark": {"type": "rule", "color": "#ff00ff", "strokeWidth": 2},
     "encoding": {"x": {"datum": 149, "type": "quantitative", "title": null}, "x2": {"datum": 167.5},
        "y": {"datum": 112.18, "type": "quantitative", "title": null}}},
    {"data": {"values": [{}]},
     "mark": {"type": "rule", "color": "#c4262e", "strokeWidth": 1.5},
     "encoding": {"x": {"datum": -20.4, "type": "quantitative", "title": null}, "x2": {"datum": 167.5},
        "y": {"datum": 104.41, "type": "quantitative", "title": null}}},
    {"data": {"name": "badges"},
     "mark": {"type": "tick", "orient": "horizontal", "size": 34, "thickness": 10, "opacity": 1},
     "encoding": {"x": {"datum": 162.5, "type": "quantitative", "title": null},
        "y": {"field": "p", "type": "quantitative", "title": null},
        "color": {"condition": [
          {"test": "datum.k == 'bo'", "value": "#f39019"},
          {"test": "datum.k == 'bg'", "value": "#178a17"},
          {"test": "datum.k == 'bw'", "value": "#ffffff"},
          {"test": "datum.k == 'bm'", "value": "#ff00ff"},
          {"test": "datum.k == 'bc'", "value": "#00ffff"}], "value": "#33dd33"}}},
    {"data": {"name": "badges"},
     "mark": {"type": "text", "align": "left", "baseline": "middle", "fontSize": 9},
     "encoding": {"x": {"datum": 158.2, "type": "quantitative", "title": null},
        "y": {"field": "p", "type": "quantitative", "title": null},
        "text": {"field": "t"},
        "color": {"condition": {"test": "datum.k == 'bg'", "value": "#cfdccf"}, "value": "#202020"}}},
    {"data": {"values": [{}]},
     "mark": {"type": "text", "align": "left", "baseline": "middle", "color": "#33cc33", "fontSize": 9.5},
     "encoding": {"x": {"datum": -0.3, "type": "quantitative", "title": null},
        "y": {"datum": 129.8, "type": "quantitative", "title": null},
        "text": {"value": "TLT - Daily  L=106.47  1.11"}}},
    {"data": {"values": [{}]},
     "mark": {"type": "text", "align": "left", "baseline": "middle", "color": "#eeeeee", "fontSize": 9.5},
     "encoding": {"x": {"datum": 32.3, "type": "quantitative", "title": null},
        "y": {"datum": 129.8, "type": "quantitative", "title": null},
        "text": {"value": "MA1 (Close,18,0)  MA1 (Close,60,0)  MAE (Close,200,0)  MA1 (Close,6,0)  MA1 (Close,100,0)  LinRe ..."}}}
  ]
},
{
  "layer": [
    {"data": {"name": "bars"},
     "mark": {"type": "rule", "strokeWidth": 1.6},
     "encoding": {"x": {"field": "i", "type": "quantitative", "title": null},
        "y": {"field": "v", "type": "quantitative", "title": null,
        "scale": {"domain": [1.07, 30.39], "range": [369, 236], "nice": false, "zero": false},
        "axis": {"orient": "left", "values": [4,12,16,20,24], "labelExpr": "format(datum.value * 1000000, ',.2f')", "labelBaseline": "middle", "labelOverlap": false}},
        "y2": {"datum": 1.07},
        "color": {"condition": {"test": "datum.vk == 'g'", "value": "#5cd05c"}, "value": "#b31f1f"}}},
    {"data": {"name": "vavg"},
     "mark": {"type": "line", "color": "#cdcd78", "strokeWidth": 1.8, "interpolate": "monotone"},
     "encoding": {"x": {"field": "i", "type": "quantitative", "title": null}, "y": {"field": "v", "type": "quantitative", "title": null}}},
    {"data": {"values": [{}]},
     "mark": {"type": "rule", "color": "#c4262e", "strokeWidth": 1.5},
     "encoding": {"x": {"datum": -20.4, "type": "quantitative", "title": null}, "x2": {"datum": 167.5},
        "y": {"datum": 1.07, "type": "quantitative", "title": null}}},
    {"data": {"values": [{}]},
     "mark": {"type": "text", "align": "left", "baseline": "middle", "color": "#eeeeee", "fontSize": 9.5},
     "encoding": {"x": {"datum": -0.4, "type": "quantitative", "title": null},
        "y": {"datum": 28.8, "type": "quantitative", "title": null},
        "text": {"value": "VolAvg (50,50,green,Red)"}}},
    {"data": {"values": [{}]},
     "mark": {"type": "tick", "orient": "horizontal", "size": 68, "thickness": 13, "color": "#22ee22", "opacity": 1},
     "encoding": {"x": {"datum": -10.45, "type": "quantitative", "title": null},
        "y": {"datum": 9.445, "type": "quantitative", "title": null}}},
    {"data": {"values": [{}]},
     "mark": {"type": "text", "align": "right", "baseline": "middle", "color": "#1d5e1d", "fontSize": 9.5},
     "encoding": {"x": {"datum": -2.0, "type": "quantitative", "title": null},
        "y": {"datum": 9.445, "type": "quantitative", "title": null},
        "text": {"value": "9,568,393.00"}}}
  ]
},
{
  "data": {"name": "bars"},
  "mark": {"type": "point", "opacity": 0},
  "encoding": {"x": {"field": "i", "type": "quantitative", "title": null},
     "y": {"field": "c", "type": "quantitative", "title": null,
     "scale": {"domain": [104.41, 130.58], "range": [236, 0], "nice": false, "zero": false},
     "axis": {"orient": "right", "values": [110,114,120,122,124,126,128], "format": ".2f", "labelBaseline": "middle", "labelOverlap": false}}}
},
{
  "data": {"name": "bars"},
  "mark": {"type": "point", "opacity": 0},
  "encoding": {"x": {"field": "i", "type": "quantitative", "title": null},
     "y": {"field": "v", "type": "quantitative", "title": null,
     "scale": {"domain": [1.07, 30.39], "range": [369, 236], "nice": false, "zero": false},
     "axis": {"orient": "right", "values": [4,8,12,16,20,24], "labelExpr": "format(datum.value * 1000000, ',.2f')", "labelLimit": 30, "labelBaseline": "middle", "labelOverlap": false}}}
}
],
"resolve": {"scale": {"y": "independent"}, "axis": {"y": "independent"}}
}
